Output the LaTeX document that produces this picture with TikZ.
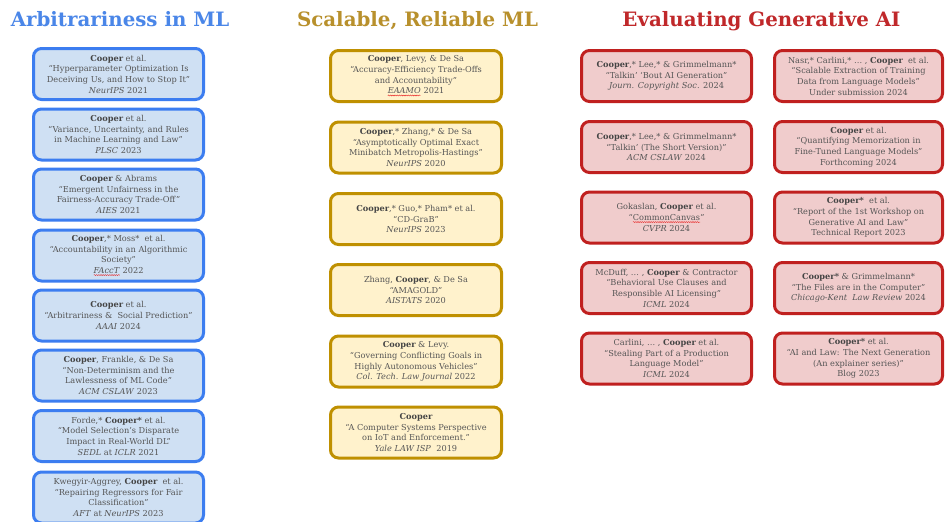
\documentclass[tikz,border=0pt]{standalone}
\usepackage{fontspec}
\setmainfont{DejaVu Serif}
\usetikzlibrary{decorations.pathmorphing}
\definecolor{blueB}{HTML}{3C7DF0}
\definecolor{blueF}{HTML}{CFE0F3}
\definecolor{goldB}{HTML}{BF9000}
\definecolor{goldF}{HTML}{FFF2CC}
\definecolor{redB}{HTML}{C0201F}
\definecolor{redF}{HTML}{F0CCCC}
\definecolor{txt}{HTML}{555555}
\definecolor{txtb}{HTML}{444444}
\definecolor{squigRed}{HTML}{E82828}
\definecolor{titleBlue}{HTML}{4A86E8}
\definecolor{titleGold}{HTML}{B8902C}
\definecolor{titleRed}{HTML}{C0282A}
\newcommand{\cb}[1]{{\bfseries\color{txtb}#1}}
\newcommand{\squig}[1]{\tikz[baseline=(sq.base),sharp corners]{\node[draw=none,fill=none,shape=rectangle,minimum width=0pt,minimum height=0pt,inner sep=0pt,outer sep=0pt] (sq) {#1};\draw[draw=squigRed,line width=0.45pt,sharp corners,decorate,decoration={snake,amplitude=0.5pt,segment length=2.2pt}] ([yshift=-1.5pt]sq.base west) -- ([yshift=-1.5pt]sq.base east);}}
\tikzset{
  pub/.style={rounded corners=8pt,line width=3pt,minimum height=51pt,align=center,inner sep=0pt,text=txt,font=\fontsize{8.2}{10.7}\selectfont},
  bluebox/.style={pub,draw=blueB,fill=blueF,minimum width=170pt},
  goldbox/.style={pub,draw=goldB,fill=goldF,minimum width=171pt},
  redbox/.style={pub,draw=redB,fill=redF,minimum width=170pt},
  redboxR/.style={pub,draw=redB,fill=redF,minimum width=168pt},
  ttl/.style={anchor=base,font=\fontsize{19.8}{22}\selectfont\bfseries}
}
\begin{document}
\begin{tikzpicture}[x=1pt,y=-1pt]
\useasboundingbox (0,0) rectangle (945,522);
\fill[white] (0,0) rectangle (945,522);
\clip (0,0) rectangle (945,522);
% titles
\node[ttl,text=titleBlue] (t1) at (120,27) {Arbitrariness in ML};
\node[ttl,text=titleGold] (t2) at (417.5,27) {Scalable, Reliable ML};
\node[ttl,text=titleRed] (t3) at (761.5,27) {Evaluating Generative AI};
% left column
\node[bluebox] (a1) at (118.5,74) {\cb{Cooper} et al.\\ “Hyperparameter Optimization Is\\ Deceiving Us, and How to Stop It”\\ \textit{NeurIPS} 2021};
\node[bluebox] (a2) at (118.5,134.5) {\cb{Cooper} et al.\\ “Variance, Uncertainty, and Rules\\ in Machine Learning and Law”\\ \textit{PLSC} 2023};
\node[bluebox] (a3) at (118.5,194.5) {\cb{Cooper} \& Abrams\\ “Emergent Unfairness in the\\ Fairness-Accuracy Trade-Off”\\ \textit{AIES} 2021};
\node[bluebox] (a4) at (118.5,255.5) {\cb{Cooper},* Moss*\ \ et al.\\ “Accountability in an Algorithmic\\ Society”\\ \squig{\textit{FAccT}} 2022};
\node[bluebox] (a5) at (118.5,315.5) {\cb{Cooper} et al.\\ “Arbitrariness \&\ \ Social Prediction”\\ \textit{AAAI} 2024};
\node[bluebox] (a6) at (118.5,375.5) {\cb{Cooper}, Frankle, \& De Sa\\ “Non-Determinism and the\\ Lawlessness of ML Code”\\ \textit{ACM CSLAW} 2023};
\node[bluebox] (a7) at (118.5,436) {Forde,* \cb{Cooper*} et al.\\ “Model Selection's Disparate\\ Impact in Real-World DL”\\ \textit{SEDL} at \textit{ICLR} 2021};
\node[bluebox] (a8) at (118.5,497.5) {Kwegyir-Aggrey, \cb{Cooper}\ \ et al.\\ “Repairing Regressors for Fair\\ Classification”\\ \textit{AFT} at \textit{NeurIPS} 2023};
% middle column
\node[goldbox] (b1) at (416,76) {\cb{Cooper}, Levy, \& De Sa\\ “Accuracy-Efficiency Trade-Offs\\ and Accountability”\\ \squig{\textit{EAAMO}} 2021};
\node[goldbox] (b2) at (416,147.5) {\cb{Cooper},* Zhang,* \& De Sa\\ “Asymptotically Optimal Exact\\ Minibatch Metropolis-Hastings”\\ \textit{NeurIPS} 2020};
\node[goldbox] (b3) at (416,219) {\cb{Cooper},* Guo,* Pham* et al.\\ “CD-GraB”\\ \textit{NeurIPS} 2023};
\node[goldbox] (b4) at (416,290) {Zhang, \cb{Cooper}, \& De Sa\\ “AMAGOLD”\\ \textit{AISTATS} 2020};
\node[goldbox] (b5) at (416,361.5) {\cb{Cooper} \& Levy.\\ “Governing Conflicting Goals in\\ Highly Autonomous Vehicles”\\ \textit{Col. Tech. Law Journal} 2022};
\node[goldbox] (b6) at (416,432.5) {\cb{Cooper}\\ “A Computer Systems Perspective\\ on IoT and Enforcement.”\\ \textit{Yale LAW ISP}\ \ 2019};
% right column, left
\node[redbox] (c1) at (666.5,76) {\cb{Cooper},* Lee,* \& Grimmelmann*\\ “Talkin' ‘Bout AI Generation”\\ \textit{Journ. Copyright Soc.} 2024};
\node[redbox] (c2) at (666.5,147) {\cb{Cooper},* Lee,* \& Grimmelmann*\\ “Talkin' (The Short Version)”\\ \textit{ACM CSLAW} 2024};
\node[redbox] (c3) at (666.5,217.5) {Gokaslan, \cb{Cooper} et al.\\ “\squig{CommonCanvas}”\\ \textit{CVPR} 2024};
\node[redbox] (c4) at (666.5,288) {McDuff, … , \cb{Cooper} \& Contractor\\ “Behavioral Use Clauses and\\ Responsible AI Licensing”\\ \textit{ICML} 2024};
\node[redbox] (c5) at (666.5,358.5) {Carlini, … , \cb{Cooper} et al.\\ “Stealing Part of a Production\\ Language Model”\\ \textit{ICML} 2024};
% right column, right
\node[redboxR] (d1) at (858.5,76) {Nasr,* Carlini,* … , \cb{Cooper}\ \ et al.\\ “Scalable Extraction of Training\\ Data from Language Models”\\ Under submission 2024};
\node[redboxR] (d2) at (858.5,147) {\cb{Cooper} et al.\\ “Quantifying Memorization in\\ Fine-Tuned Language Models”\\ Forthcoming 2024};
\node[redboxR] (d3) at (858.5,217.5) {\cb{Cooper*}\ \ et al.\\ “Report of the 1st Workshop on\\ Generative AI and Law”\\ Technical Report 2023};
\node[redboxR] (d4) at (858.5,288) {\cb{Cooper*} \& Grimmelmann*\\ “The Files are in the Computer”\\ \textit{Chicago-Kent\ \ Law Review} 2024};
\node[redboxR] (d5) at (858.5,358.5) {\cb{Cooper*} et al.\\ “AI and Law: The Next Generation\\ (An explainer series)”\\ Blog 2023};
\end{tikzpicture}
\end{document}
